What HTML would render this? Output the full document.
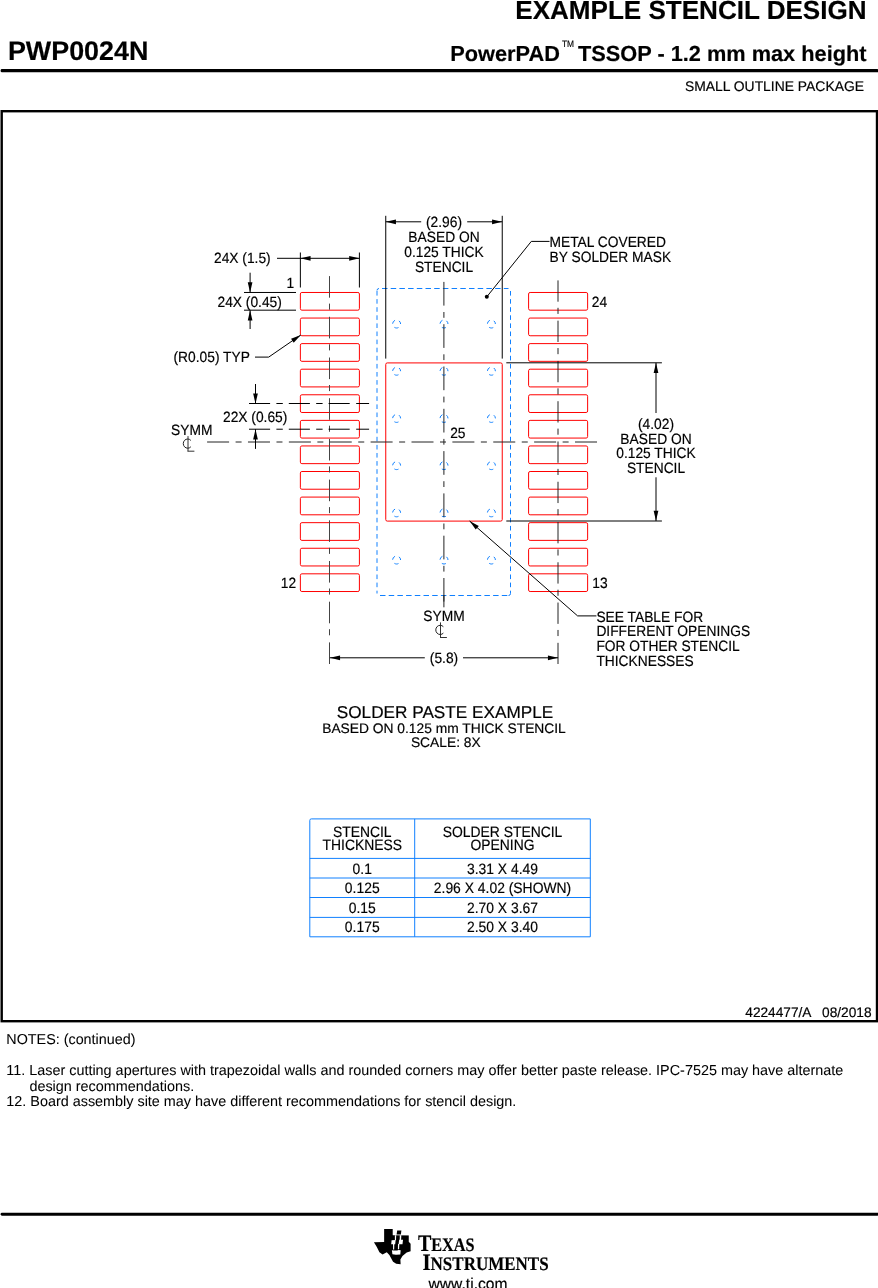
<!DOCTYPE html>
<html><head><meta charset="utf-8"><style>
html,body{margin:0;padding:0;background:#fff;width:878px;height:1288px;overflow:hidden}
svg{display:block;will-change:transform}
text{font-family:"Liberation Sans",sans-serif;stroke:#000;stroke-width:0.18px;text-rendering:geometricPrecision}
</style></head><body>
<svg width="878" height="1288" viewBox="0 0 878 1288" font-family="Liberation Sans, sans-serif"><text x="866.5" y="18.8" font-size="26.05" text-anchor="end" font-weight="bold" fill="#000" >EXAMPLE STENCIL DESIGN</text>
<text x="7.9" y="60.3" font-size="26.9" text-anchor="start" font-weight="bold" fill="#000" >PWP0024N</text>
<text x="450.3" y="60.5" font-size="21.76" text-anchor="start" font-weight="bold" fill="#000" >PowerPAD</text>
<text x="561.9" y="46.7" font-size="9.5" text-anchor="start" fill="#000" textLength="12.1" lengthAdjust="spacingAndGlyphs">TM</text>
<text x="866.5" y="60.5" font-size="21.76" text-anchor="end" font-weight="bold" fill="#000" >TSSOP - 1.2 mm max height</text>
<rect x="0.6" y="69.1" width="878" height="3.2" rx="1.4" fill="#000"/>
<text x="864" y="91.3" font-size="13.9" text-anchor="end" fill="#000" >SMALL OUTLINE PACKAGE</text>
<rect x="1.7" y="111.2" width="875.3" height="910" fill="none" stroke="#000" stroke-width="2.4"/>
<rect x="300.37" y="292.47" width="59.03" height="17.71" rx="1.5" fill="none" stroke="#ff0000" stroke-width="1"/>
<rect x="528.60" y="292.47" width="59.03" height="17.71" rx="1.5" fill="none" stroke="#ff0000" stroke-width="1"/>
<rect x="300.37" y="318.05" width="59.03" height="17.71" rx="1.5" fill="none" stroke="#ff0000" stroke-width="1"/>
<rect x="528.60" y="318.05" width="59.03" height="17.71" rx="1.5" fill="none" stroke="#ff0000" stroke-width="1"/>
<rect x="300.37" y="343.62" width="59.03" height="17.71" rx="1.5" fill="none" stroke="#ff0000" stroke-width="1"/>
<rect x="528.60" y="343.62" width="59.03" height="17.71" rx="1.5" fill="none" stroke="#ff0000" stroke-width="1"/>
<rect x="300.37" y="369.20" width="59.03" height="17.71" rx="1.5" fill="none" stroke="#ff0000" stroke-width="1"/>
<rect x="528.60" y="369.20" width="59.03" height="17.71" rx="1.5" fill="none" stroke="#ff0000" stroke-width="1"/>
<rect x="300.37" y="394.78" width="59.03" height="17.71" rx="1.5" fill="none" stroke="#ff0000" stroke-width="1"/>
<rect x="528.60" y="394.78" width="59.03" height="17.71" rx="1.5" fill="none" stroke="#ff0000" stroke-width="1"/>
<rect x="300.37" y="420.36" width="59.03" height="17.71" rx="1.5" fill="none" stroke="#ff0000" stroke-width="1"/>
<rect x="528.60" y="420.36" width="59.03" height="17.71" rx="1.5" fill="none" stroke="#ff0000" stroke-width="1"/>
<rect x="300.37" y="445.94" width="59.03" height="17.71" rx="1.5" fill="none" stroke="#ff0000" stroke-width="1"/>
<rect x="528.60" y="445.94" width="59.03" height="17.71" rx="1.5" fill="none" stroke="#ff0000" stroke-width="1"/>
<rect x="300.37" y="471.51" width="59.03" height="17.71" rx="1.5" fill="none" stroke="#ff0000" stroke-width="1"/>
<rect x="528.60" y="471.51" width="59.03" height="17.71" rx="1.5" fill="none" stroke="#ff0000" stroke-width="1"/>
<rect x="300.37" y="497.09" width="59.03" height="17.71" rx="1.5" fill="none" stroke="#ff0000" stroke-width="1"/>
<rect x="528.60" y="497.09" width="59.03" height="17.71" rx="1.5" fill="none" stroke="#ff0000" stroke-width="1"/>
<rect x="300.37" y="522.67" width="59.03" height="17.71" rx="1.5" fill="none" stroke="#ff0000" stroke-width="1"/>
<rect x="528.60" y="522.67" width="59.03" height="17.71" rx="1.5" fill="none" stroke="#ff0000" stroke-width="1"/>
<rect x="300.37" y="548.25" width="59.03" height="17.71" rx="1.5" fill="none" stroke="#ff0000" stroke-width="1"/>
<rect x="528.60" y="548.25" width="59.03" height="17.71" rx="1.5" fill="none" stroke="#ff0000" stroke-width="1"/>
<rect x="300.37" y="573.82" width="59.03" height="17.71" rx="1.5" fill="none" stroke="#ff0000" stroke-width="1"/>
<rect x="528.60" y="573.82" width="59.03" height="17.71" rx="1.5" fill="none" stroke="#ff0000" stroke-width="1"/>
<rect x="385.76" y="362.91" width="116.48" height="158.19" rx="1.5" fill="none" stroke="#ff0000" stroke-width="1"/>
<g fill="none" stroke="#1080ff" stroke-width="1">
<path d="M379,288.5 H508.5" stroke-dasharray="5.5,3.2" stroke-dashoffset="-3"/>
<path d="M379,595.5 H508.5" stroke-dasharray="5.5,3.2" stroke-dashoffset="-1"/>
<path d="M377,290.5 V593.5" stroke-dasharray="4.6,3.5" stroke-dashoffset="-0.5"/>
<path d="M510.5,290.5 V593.5" stroke-dasharray="4.6,3.5" stroke-dashoffset="-0.5"/>
<path d="M377,290.5 Q377,288.5 379,288.5 M508.5,595.5 Q510.5,595.5 510.5,593.5"/>
</g>
<circle cx="396.60" cy="324.00" r="4" fill="none" stroke="#1080ff" stroke-width="1" stroke-dasharray="4.19,4.19" stroke-dashoffset="4.19"/>
<circle cx="444.00" cy="324.00" r="4" fill="none" stroke="#1080ff" stroke-width="1" stroke-dasharray="4.19,4.19" stroke-dashoffset="4.19"/>
<circle cx="491.40" cy="324.00" r="4" fill="none" stroke="#1080ff" stroke-width="1" stroke-dasharray="4.19,4.19" stroke-dashoffset="4.19"/>
<circle cx="396.60" cy="371.20" r="4" fill="none" stroke="#1080ff" stroke-width="1" stroke-dasharray="4.19,4.19" stroke-dashoffset="4.19"/>
<circle cx="444.00" cy="371.20" r="4" fill="none" stroke="#1080ff" stroke-width="1" stroke-dasharray="4.19,4.19" stroke-dashoffset="4.19"/>
<circle cx="491.40" cy="371.20" r="4" fill="none" stroke="#1080ff" stroke-width="1" stroke-dasharray="4.19,4.19" stroke-dashoffset="4.19"/>
<circle cx="396.60" cy="418.40" r="4" fill="none" stroke="#1080ff" stroke-width="1" stroke-dasharray="4.19,4.19" stroke-dashoffset="4.19"/>
<circle cx="444.00" cy="418.40" r="4" fill="none" stroke="#1080ff" stroke-width="1" stroke-dasharray="4.19,4.19" stroke-dashoffset="4.19"/>
<circle cx="491.40" cy="418.40" r="4" fill="none" stroke="#1080ff" stroke-width="1" stroke-dasharray="4.19,4.19" stroke-dashoffset="4.19"/>
<circle cx="396.60" cy="465.60" r="4" fill="none" stroke="#1080ff" stroke-width="1" stroke-dasharray="4.19,4.19" stroke-dashoffset="4.19"/>
<circle cx="444.00" cy="465.60" r="4" fill="none" stroke="#1080ff" stroke-width="1" stroke-dasharray="4.19,4.19" stroke-dashoffset="4.19"/>
<circle cx="491.40" cy="465.60" r="4" fill="none" stroke="#1080ff" stroke-width="1" stroke-dasharray="4.19,4.19" stroke-dashoffset="4.19"/>
<circle cx="396.60" cy="512.80" r="4" fill="none" stroke="#1080ff" stroke-width="1" stroke-dasharray="4.19,4.19" stroke-dashoffset="4.19"/>
<circle cx="444.00" cy="512.80" r="4" fill="none" stroke="#1080ff" stroke-width="1" stroke-dasharray="4.19,4.19" stroke-dashoffset="4.19"/>
<circle cx="491.40" cy="512.80" r="4" fill="none" stroke="#1080ff" stroke-width="1" stroke-dasharray="4.19,4.19" stroke-dashoffset="4.19"/>
<circle cx="396.60" cy="560.00" r="4" fill="none" stroke="#1080ff" stroke-width="1" stroke-dasharray="4.19,4.19" stroke-dashoffset="4.19"/>
<circle cx="444.00" cy="560.00" r="4" fill="none" stroke="#1080ff" stroke-width="1" stroke-dasharray="4.19,4.19" stroke-dashoffset="4.19"/>
<circle cx="491.40" cy="560.00" r="4" fill="none" stroke="#1080ff" stroke-width="1" stroke-dasharray="4.19,4.19" stroke-dashoffset="4.19"/>
<line x1="329.5" y1="276.1" x2="329.5" y2="664" stroke="#444" stroke-width="1" stroke-dasharray="21.6,5.9,6.1,7.1"/>
<line x1="558.0" y1="280.4" x2="558.0" y2="664" stroke="#222" stroke-width="1" stroke-dasharray="21.3,6.1,6.1,6.77"/>
<line x1="443.9" y1="281.9" x2="443.9" y2="601.6" stroke="#222" stroke-width="1" stroke-dasharray="23.7,6.4,5.8,6.4"/>
<line x1="443.9" y1="595" x2="443.9" y2="607.3" stroke="#222" stroke-width="1" />
<line x1="207.1" y1="442" x2="597.3" y2="442" stroke="#222" stroke-width="1" stroke-dasharray="22,6.5,6,6.38"/>
<line x1="249.0" y1="403.5" x2="350" y2="403.5" stroke="#000" stroke-width="1" stroke-dasharray="21.1,6.3,6.4,6.0"/>
<line x1="356.2" y1="403.5" x2="369.1" y2="403.5" stroke="#000" stroke-width="1" />
<line x1="249.0" y1="429.21125" x2="350" y2="429.21125" stroke="#000" stroke-width="1" stroke-dasharray="21.1,6.3,6.4,6.0"/>
<line x1="356.2" y1="429.21125" x2="369.1" y2="429.21125" stroke="#000" stroke-width="1" />
<line x1="300.3725" y1="252.5" x2="300.3725" y2="287.5" stroke="#000" stroke-width="1" />
<line x1="359.3975" y1="252.5" x2="359.3975" y2="287.5" stroke="#000" stroke-width="1" />
<line x1="277" y1="258.3" x2="359.3975" y2="258.3" stroke="#000" stroke-width="1" />
<polygon points="300.37,258.30 310.57,255.95 310.57,260.65" fill="#000"/>
<polygon points="359.40,258.30 349.20,260.65 349.20,255.95" fill="#000"/>
<text transform="translate(214,263.1) scale(0.9259,1)" x="0" y="0" font-size="14.90" text-anchor="start" fill="#000" >24X (1.5)</text>
<line x1="244" y1="292.47" x2="296" y2="292.47" stroke="#000" stroke-width="1" />
<line x1="244" y1="310.1775" x2="296" y2="310.1775" stroke="#000" stroke-width="1" />
<line x1="250.1" y1="272.7" x2="250.1" y2="292.47" stroke="#000" stroke-width="1" />
<polygon points="250.10,292.47 247.75,282.27 252.45,282.27" fill="#000"/>
<line x1="250.1" y1="310.1775" x2="250.1" y2="329" stroke="#000" stroke-width="1" />
<polygon points="250.10,310.18 252.45,320.38 247.75,320.38" fill="#000"/>
<text transform="translate(294.2,288.2) scale(0.9259,1)" x="0" y="0" font-size="14.90" text-anchor="end" fill="#000" >1</text>
<text transform="translate(217.5,306.7) scale(0.9259,1)" x="0" y="0" font-size="14.90" text-anchor="start" fill="#000" >24X (0.45)</text>
<text transform="translate(173.5,362.4) scale(0.9259,1)" x="0" y="0" font-size="14.90" text-anchor="start" fill="#000" >(R0.05) TYP</text>
<line x1="255" y1="357.1" x2="268.7" y2="357.1" stroke="#000" stroke-width="1" />
<line x1="268.7" y1="357.1" x2="300.8" y2="335" stroke="#000" stroke-width="1" />
<polygon points="300.80,335.00 293.73,342.72 291.07,338.85" fill="#000"/>
<line x1="255.5" y1="384" x2="255.5" y2="403.63375" stroke="#000" stroke-width="1" />
<polygon points="255.50,403.63 253.15,393.43 257.85,393.43" fill="#000"/>
<line x1="255.5" y1="429.21125" x2="255.5" y2="448.9" stroke="#000" stroke-width="1" />
<polygon points="255.50,429.21 257.85,439.41 253.15,439.41" fill="#000"/>
<text transform="translate(223,422.3) scale(0.9259,1)" x="0" y="0" font-size="14.90" text-anchor="start" fill="#000" >22X (0.65)</text>
<text transform="translate(171,434.7) scale(0.9259,1)" x="0" y="0" font-size="14.90" text-anchor="start" fill="#000" >SYMM</text>
<g fill="none" stroke="#000" stroke-width="1"><path d="M188.00,436.10 V451.30 M187.50,451.20 H194.40" stroke="#333"/><path d="M190.87,440.43 A4.4,4.6 0 1 0 190.87,446.77" stroke="#222"/></g>
<line x1="385.762" y1="215.8" x2="385.762" y2="358.6" stroke="#000" stroke-width="1" />
<line x1="502.238" y1="215.8" x2="502.238" y2="358.6" stroke="#000" stroke-width="1" />
<line x1="385.762" y1="221.8" x2="421.2" y2="221.8" stroke="#000" stroke-width="1" />
<line x1="467.2" y1="221.8" x2="502.238" y2="221.8" stroke="#000" stroke-width="1" />
<polygon points="385.76,221.80 395.96,219.45 395.96,224.15" fill="#000"/>
<polygon points="502.24,221.80 492.04,224.15 492.04,219.45" fill="#000"/>
<text transform="translate(444.0,227) scale(0.9259,1)" x="0" y="0" font-size="14.90" text-anchor="middle" fill="#000" >(2.96)</text>
<text transform="translate(444.0,242) scale(0.9259,1)" x="0" y="0" font-size="14.90" text-anchor="middle" fill="#000" >BASED ON</text>
<text transform="translate(444.0,257) scale(0.9259,1)" x="0" y="0" font-size="14.90" text-anchor="middle" fill="#000" >0.125 THICK</text>
<text transform="translate(444.0,272) scale(0.9259,1)" x="0" y="0" font-size="14.90" text-anchor="middle" fill="#000" >STENCIL</text>
<circle cx="486.8" cy="296.8" r="2" fill="#000"/>
<line x1="486.8" y1="296.8" x2="531.3" y2="241.4" stroke="#000" stroke-width="1" />
<line x1="531.3" y1="241.4" x2="549.5" y2="241.4" stroke="#000" stroke-width="1" />
<text transform="translate(549.5,247.1) scale(0.9259,1)" x="0" y="0" font-size="14.90" text-anchor="start" fill="#000" >METAL COVERED</text>
<text transform="translate(549.5,261.9) scale(0.9259,1)" x="0" y="0" font-size="14.90" text-anchor="start" fill="#000" >BY SOLDER MASK</text>
<text transform="translate(591.8,306.9) scale(0.9259,1)" x="0" y="0" font-size="14.90" text-anchor="start" fill="#000" >24</text>
<line x1="506.3" y1="362.8" x2="661.9" y2="362.8" stroke="#000" stroke-width="1" />
<line x1="506.3" y1="521.0" x2="661.9" y2="521.0" stroke="#000" stroke-width="1" />
<line x1="656.0" y1="362.8" x2="656.0" y2="413" stroke="#000" stroke-width="1" />
<line x1="656.0" y1="477.3" x2="656.0" y2="521.0" stroke="#000" stroke-width="1" />
<polygon points="656.00,362.80 658.35,373.00 653.65,373.00" fill="#000"/>
<polygon points="656.00,521.00 653.65,510.80 658.35,510.80" fill="#000"/>
<text transform="translate(656,429.4) scale(0.9259,1)" x="0" y="0" font-size="14.90" text-anchor="middle" fill="#000" >(4.02)</text>
<text transform="translate(656,443.79999999999995) scale(0.9259,1)" x="0" y="0" font-size="14.90" text-anchor="middle" fill="#000" >BASED ON</text>
<text transform="translate(656,458.2) scale(0.9259,1)" x="0" y="0" font-size="14.90" text-anchor="middle" fill="#000" >0.125 THICK</text>
<text transform="translate(656,472.59999999999997) scale(0.9259,1)" x="0" y="0" font-size="14.90" text-anchor="middle" fill="#000" >STENCIL</text>
<text transform="translate(450.2,438) scale(0.9259,1)" x="0" y="0" font-size="14.90" text-anchor="start" fill="#000" >25</text>
<text transform="translate(296.2,587.6) scale(0.9259,1)" x="0" y="0" font-size="14.90" text-anchor="end" fill="#000" >12</text>
<text transform="translate(592.3,587.9) scale(0.9259,1)" x="0" y="0" font-size="14.90" text-anchor="start" fill="#000" >13</text>
<line x1="469.6" y1="521" x2="577.6" y2="615.9" stroke="#000" stroke-width="1" />
<line x1="577.6" y1="615.9" x2="596.4" y2="615.9" stroke="#000" stroke-width="1" />
<polygon points="469.60,521.00 478.81,525.97 475.71,529.50" fill="#000"/>
<text transform="translate(596.4,622) scale(0.9259,1)" x="0" y="0" font-size="14.90" text-anchor="start" fill="#000" >SEE TABLE FOR</text>
<text transform="translate(596.4,636) scale(0.9259,1)" x="0" y="0" font-size="14.90" text-anchor="start" fill="#000" >DIFFERENT OPENINGS</text>
<text transform="translate(596.4,651) scale(0.9259,1)" x="0" y="0" font-size="14.90" text-anchor="start" fill="#000" >FOR OTHER STENCIL</text>
<text transform="translate(596.4,666) scale(0.9259,1)" x="0" y="0" font-size="14.90" text-anchor="start" fill="#000" >THICKNESSES</text>
<text transform="translate(444.0,620.6) scale(0.9259,1)" x="0" y="0" font-size="14.90" text-anchor="middle" fill="#000" >SYMM</text>
<g fill="none" stroke="#000" stroke-width="1"><path d="M440.50,622.40 V637.60 M440.00,637.50 H446.90" stroke="#333"/><path d="M443.37,626.73 A4.4,4.6 0 1 0 443.37,633.07" stroke="#222"/></g>
<line x1="329.885" y1="657.8" x2="424.8" y2="657.8" stroke="#000" stroke-width="1" />
<line x1="463" y1="657.8" x2="558.115" y2="657.8" stroke="#000" stroke-width="1" />
<polygon points="329.88,657.80 340.08,655.45 340.08,660.15" fill="#000"/>
<polygon points="558.12,657.80 547.91,660.15 547.91,655.45" fill="#000"/>
<text transform="translate(444.0,663) scale(0.9259,1)" x="0" y="0" font-size="14.90" text-anchor="middle" fill="#000" >(5.8)</text>
<text x="445" y="717.8" font-size="17.2" text-anchor="middle" fill="#000" >SOLDER PASTE EXAMPLE</text>
<text x="444" y="732.7" font-size="13.8" text-anchor="middle" fill="#000" >BASED ON 0.125 mm THICK STENCIL</text>
<text x="445.8" y="747.4" font-size="13.8" text-anchor="middle" fill="#000" >SCALE: 8X</text>
<path d="M309.8,820.4 Q309.8,818.9 311.3,818.9 H590.3 V936.8 H309.8 Z" fill="none" stroke="#1080ff" stroke-width="1"/>
<line x1="414.7" y1="818.9" x2="414.7" y2="936.8" stroke="#1080ff" stroke-width="1" />
<line x1="309.8" y1="858.4" x2="590.3" y2="858.4" stroke="#1080ff" stroke-width="1" />
<line x1="309.8" y1="878.0" x2="590.3" y2="878.0" stroke="#1080ff" stroke-width="1" />
<line x1="309.8" y1="897.5" x2="590.3" y2="897.5" stroke="#1080ff" stroke-width="1" />
<line x1="309.8" y1="917.4" x2="590.3" y2="917.4" stroke="#1080ff" stroke-width="1" />
<text transform="translate(362.25,837) scale(0.9259,1)" x="0" y="0" font-size="15.01" text-anchor="middle" fill="#000" >STENCIL</text>
<text transform="translate(362.25,849.7) scale(0.9259,1)" x="0" y="0" font-size="15.01" text-anchor="middle" fill="#000" >THICKNESS</text>
<text transform="translate(502.5,837) scale(0.9259,1)" x="0" y="0" font-size="15.01" text-anchor="middle" fill="#000" >SOLDER STENCIL</text>
<text transform="translate(502.5,849.7) scale(0.9259,1)" x="0" y="0" font-size="15.01" text-anchor="middle" fill="#000" >OPENING</text>
<text transform="translate(362.25,873.5) scale(0.9259,1)" x="0" y="0" font-size="15.01" text-anchor="middle" fill="#000" >0.1</text>
<text transform="translate(502.5,873.5) scale(0.9259,1)" x="0" y="0" font-size="15.01" text-anchor="middle" fill="#000" >3.31 X 4.49</text>
<text transform="translate(362.25,893.15) scale(0.9259,1)" x="0" y="0" font-size="15.01" text-anchor="middle" fill="#000" >0.125</text>
<text transform="translate(502.5,893.15) scale(0.9259,1)" x="0" y="0" font-size="15.01" text-anchor="middle" fill="#000" >2.96 X 4.02 (SHOWN)</text>
<text transform="translate(362.25,912.8) scale(0.9259,1)" x="0" y="0" font-size="15.01" text-anchor="middle" fill="#000" >0.15</text>
<text transform="translate(502.5,912.8) scale(0.9259,1)" x="0" y="0" font-size="15.01" text-anchor="middle" fill="#000" >2.70 X 3.67</text>
<text transform="translate(362.25,932.45) scale(0.9259,1)" x="0" y="0" font-size="15.01" text-anchor="middle" fill="#000" >0.175</text>
<text transform="translate(502.5,932.45) scale(0.9259,1)" x="0" y="0" font-size="15.01" text-anchor="middle" fill="#000" >2.50 X 3.40</text>
<text x="811.5" y="1017" font-size="13.7" text-anchor="end" fill="#000" >4224477/A</text>
<text x="871.5" y="1017" font-size="13.7" text-anchor="end" fill="#000" >08/2018</text>
<text x="6.3" y="1044.3" font-size="14.35" text-anchor="start" fill="#000" style="stroke-width:0.05px">NOTES: (continued)</text>
<text x="6.3" y="1075.2" font-size="14.4" text-anchor="start" fill="#000" style="stroke-width:0.05px">11. Laser cutting apertures with trapezoidal walls and rounded corners may offer better paste release. IPC-7525 may have alternate</text>
<text x="29.4" y="1090.5" font-size="14.4" text-anchor="start" fill="#000" style="stroke-width:0.05px">design recommendations.</text>
<text x="6.3" y="1105.9" font-size="14.4" text-anchor="start" fill="#000" style="stroke-width:0.05px">12. Board assembly site may have different recommendations for stencil design.</text>
<rect x="0.6" y="1212.7" width="878" height="3" rx="1.4" fill="#000"/>
<g fill="#000"><polygon points="384.14,1228.98 392.79,1228.98 392.79,1235.26 408.76,1235.26 408.76,1241.81 410.60,1243.64 410.60,1251.24 406.67,1252.55 402.48,1255.95 400.38,1259.62 400.64,1264.34 396.19,1263.81 393.05,1261.72 389.38,1254.91 386.76,1252.29 382.57,1254.38 379.43,1252.29 376.81,1247.05 373.93,1242.33 384.14,1242.07"/></g><g fill="#fff"><polygon points="392.90,1235.00 392.90,1229.00 410.00,1229.00 410.00,1235.20"/><polygon points="394.90,1235.20 396.20,1235.20 396.00,1240.30 394.90,1240.30"/><polygon points="399.80,1235.20 401.30,1235.20 401.10,1239.90 399.70,1239.90"/><polygon points="391.60,1240.30 395.60,1240.10 395.20,1244.20 391.20,1244.20"/><polygon points="399.20,1239.80 403.00,1239.70 402.50,1244.20 398.60,1244.20"/><polygon points="393.00,1244.10 394.30,1244.10 394.20,1249.60 393.10,1249.60"/><polygon points="398.00,1244.10 399.30,1244.10 399.10,1249.30 397.90,1249.30"/><polygon points="391.90,1250.30 394.00,1250.60 397.00,1250.50 398.80,1249.90 400.70,1250.30 400.30,1254.60 396.00,1254.80 392.40,1254.20"/></g><polygon fill="#000" points="397.20,1230.60 401.40,1230.60 400.90,1234.50 396.60,1234.50"/>
<text x="417.9" y="1250.8" style="font-family:'Liberation Serif',serif" font-weight="bold" font-size="23.5" fill="#000" stroke="#000" stroke-width="0.9" textLength="56.6" lengthAdjust="spacingAndGlyphs">T<tspan font-size="19">EXAS</tspan></text>
<text x="422.4" y="1269.8" style="font-family:'Liberation Serif',serif" font-weight="bold" font-size="23.5" fill="#000" stroke="#000" stroke-width="0.9" textLength="126.2" lengthAdjust="spacingAndGlyphs">I<tspan font-size="19">NSTRUMENTS</tspan></text>
<text x="428.6" y="1289" font-size="15.6" text-anchor="start" fill="#000" >www.ti.com</text></svg>
</body></html>
